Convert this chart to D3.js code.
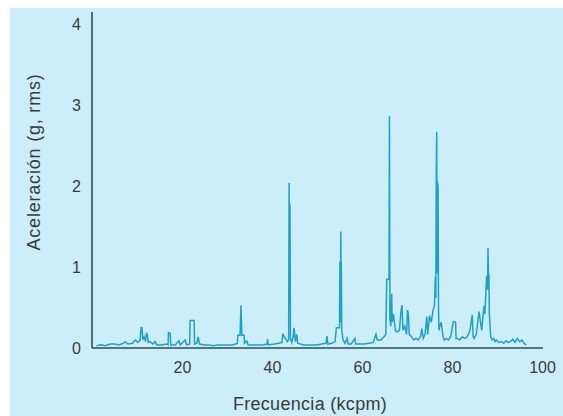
<!DOCTYPE html>
<html><head><meta charset="utf-8">
<script src="https://cdn.jsdelivr.net/npm/d3@7"></script>
<style>body{margin:0;background:#fff}svg{display:block}</style>
</head><body><svg id="c" width="563" height="416"></svg>
<script>
const xTicks = [20, 40, 60, 80, 100];
const yTicks = [0, 1, 2, 3, 4];
const xTitle = "Frecuencia (kcpm)";
const yTitle = "Aceleración (g, rms)";
// frequency (kcpm) and acceleration (g, rms)
const freq = [1.0,2.0,3.0,4.0,5.0,6.0,7.0,7.4,8.0,9.0,9.6,10.2,10.7,10.9,11.1,11.3,11.6,11.9,12.1,12.3,12.5,12.9,13.5,14.0,14.4,15.5,16.5,16.9,17.0,17.4,17.5,18.5,19.3,19.6,20.7,21.0,21.7,21.8,22.7,22.8,23.3,23.6,23.9,25,26,27,28,29,30,31,32,32.3,32.4,32.9,33.1,33.3,33.8,33.9,34.4,34.7,36,37,38,38.9,39.0,39.2,40.5,41.5,42.2,42.4,42.7,43.0,43.4,43.7,43.8,43.85,43.9,43.95,44.0,44.1,44.4,44.7,44.9,45.2,45.5,45.7,47,48,49,50,51,52.0,52.2,52.4,53.3,54.0,54.3,54.4,55.0,55.1,55.2,55.3,55.35,55.4,55.5,55.8,56.2,56.7,56.9,57.6,58.4,58.6,59.5,60.5,61.5,62.5,63.1,63.4,64.2,64.9,65.3,65.5,65.6,66.0,66.1,66.2,66.4,66.6,66.7,67.0,67.4,67.8,68.3,68.7,68.9,69.1,69.5,69.9,70.1,70.3,70.5,71.0,71.5,72.0,72.5,73.0,73.3,73.6,74.0,74.4,74.6,75.0,75.4,75.8,76.1,76.3,76.4,76.5,76.6,76.7,76.75,76.8,76.9,77.0,77.1,77.3,77.6,78.0,78.3,78.7,79.2,79.7,80.3,80.8,80.9,81.2,81.7,82.3,82.9,83.4,84.0,84.5,84.7,84.9,85.4,86.0,86.6,87.1,87.3,87.7,87.9,88.0,88.1,88.2,88.3,88.4,88.6,88.9,89.3,89.6,89.9,90.4,91.0,91.5,92.0,92.5,93.0,93.5,94.0,94.5,95.0,95.5,96.0,96.5,97.0,97.3];
const accel = [0.01,0.02,0.01,0.03,0.03,0.02,0.04,0.06,0.03,0.04,0.08,0.05,0.08,0.23,0.23,0.08,0.12,0.06,0.16,0.15,0.05,0.06,0.03,0.06,0.02,0.02,0.03,0.02,0.17,0.16,0.02,0.02,0.07,0.02,0.08,0.02,0.03,0.32,0.32,0.03,0.04,0.12,0.03,0.02,0.02,0.01,0.02,0.02,0.02,0.02,0.03,0.04,0.14,0.14,0.51,0.14,0.14,0.04,0.07,0.02,0.02,0.02,0.02,0.03,0.09,0.02,0.03,0.04,0.05,0.16,0.12,0.1,0.06,0.08,2.02,0.5,1.77,0.5,1.75,0.1,0.05,0.12,0.23,0.06,0.15,0.04,0.02,0.02,0.02,0.02,0.03,0.04,0.13,0.03,0.04,0.06,0.23,0.23,0.23,1.05,0.3,1.42,0.3,1.05,0.2,0.08,0.04,0.1,0.03,0.03,0.1,0.03,0.03,0.03,0.04,0.05,0.15,0.08,0.08,0.12,0.15,0.83,0.83,0.83,2.85,0.35,0.25,0.65,0.3,0.4,0.2,0.18,0.2,0.45,0.51,0.2,0.25,0.15,0.45,0.4,0.15,0.12,0.08,0.1,0.08,0.12,0.22,0.1,0.15,0.37,0.15,0.38,0.3,0.45,0.5,0.86,0.6,2.04,2.65,0.9,2.04,1.2,2.0,0.5,0.2,0.25,0.3,0.12,0.08,0.1,0.08,0.12,0.31,0.3,0.1,0.1,0.08,0.12,0.1,0.12,0.2,0.39,0.12,0.1,0.15,0.43,0.2,0.5,0.4,0.87,0.7,1.22,0.87,0.9,0.4,0.3,0.12,0.08,0.1,0.06,0.08,0.05,0.06,0.04,0.07,0.05,0.06,0.09,0.05,0.1,0.06,0.08,0.04,0.02];

const svg = d3.select("#c");
svg.append("rect").attr("x",10).attr("y",8).attr("width",553).attr("height",408).attr("fill","#cbeefa");

const x = d3.scaleLinear().domain([0,100]).range([92,542]);
const y = d3.scaleLinear().domain([0,4]).range([348,24]);
const font = "'Liberation Sans', Arial, sans-serif";
const txt = "#3b3b3b", axc = "#2e4d58";

const data = freq.map((f,i)=>({f, a: accel[i]}));

svg.append("path").datum(data)
  .attr("fill","none").attr("stroke","#1fa0c6").attr("stroke-width",1.5)
  .attr("stroke-linejoin","miter")
  .attr("d", d3.line().x(d=>x(d.f)).y(d=>y(d.a)-1.5));

// axes
const gx = svg.append("g").attr("transform","translate(0,348)")
  .call(d3.axisBottom(x).tickValues(xTicks).tickFormat(d3.format("d")).tickSize(0).tickPadding(14));
gx.select(".domain").attr("stroke",axc).attr("stroke-width",1.6).attr("d","M92,0H543");
gx.selectAll("text").attr("font-family",font).attr("font-size",16).attr("fill",txt);

const gy = svg.append("g").attr("transform","translate(92,0)")
  .call(d3.axisLeft(y).tickValues(yTicks).tickFormat(d3.format("d")).tickSize(0).tickPadding(11));
gy.select(".domain").attr("stroke",axc).attr("stroke-width",1.6).attr("d","M0,12V348");
gy.selectAll("text").attr("font-family",font).attr("font-size",16).attr("fill",txt);

svg.append("text").attr("x",310).attr("y",410).attr("text-anchor","middle")
  .attr("font-family",font).attr("font-size",18).attr("letter-spacing",0.3).attr("fill",txt).text(xTitle);
svg.append("text").attr("transform","translate(40,162) rotate(-90)").attr("text-anchor","middle")
  .attr("font-family",font).attr("font-size",18).attr("letter-spacing",0.8).attr("fill",txt).text(yTitle);
</script></body></html>
